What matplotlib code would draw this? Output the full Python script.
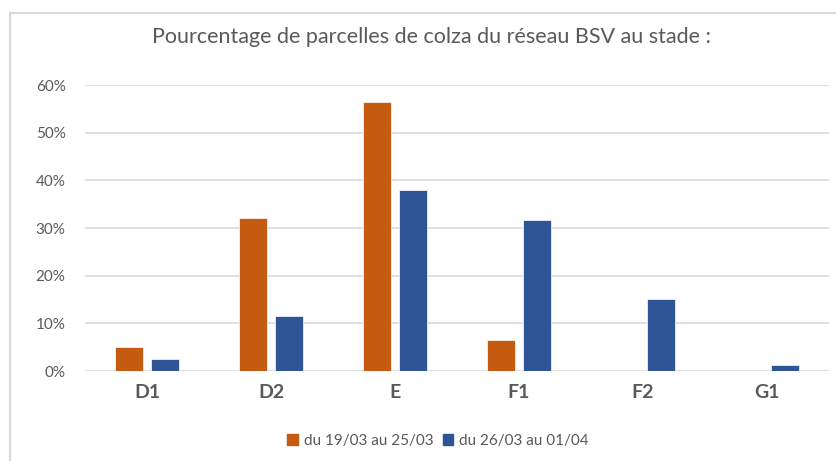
import numpy as np
import matplotlib
matplotlib.use("Agg")
import matplotlib.pyplot as plt
from matplotlib.lines import Line2D
from matplotlib.patches import Patch
from matplotlib.ticker import FuncFormatter

stades = ["D1", "D2", "E", "F1", "F2", "G1"]
semaine1 = [5.1, 32.0, 56.5, 6.5, 0.0, 0.0]
semaine2 = [2.6, 11.5, 37.9, 31.6, 15.2, 1.3]
labels = ["du 19/03 au 25/03", "du 26/03 au 01/04"]

orange = "#C55A11"
bleu = "#2F5597"
gris = "#595959"

plt.rcParams['font.family'] = ['Lato', 'DejaVu Sans']

fig = plt.figure(figsize=(8.37, 4.61), dpi=100)
ax = fig.add_axes([85/837, 1-371/461, (829-85)/837, (371-85)/461])

x = np.arange(len(stades))
w = 0.22
ax.bar(x - 0.145, semaine1, w, color=orange, edgecolor="white", linewidth=0.5, zorder=3)
ax.bar(x + 0.145, semaine2, w, color=bleu, edgecolor="white", linewidth=0.5, zorder=3)

ax.set_xlim(-0.5, 5.5)
ax.set_ylim(0, 60)
ax.set_yticks(range(0, 61, 10))
ax.yaxis.set_major_formatter(FuncFormatter(lambda v, p: "%d%%" % v))
ax.grid(axis="y", color="#d9d9d9", linewidth=1.2, zorder=0)
for s in ax.spines.values():
    s.set_visible(False)
ax.tick_params(axis="both", length=0)
ax.tick_params(axis="y", labelsize=11, labelcolor=gris, pad=14)
ax.set_xticks(x)
ax.set_xticklabels(stades, fontsize=14, fontweight="bold", color=gris)
ax.tick_params(axis="x", pad=9)

fig.text(432/837, 1-37/461, "Pourcentage de parcelles de colza du réseau BSV au stade :",
         ha="center", va="center", fontsize=15.5, color=gris)

handles = [Patch(color=orange), Patch(color=bleu)]
fig.legend(handles, labels, loc="center", bbox_to_anchor=(438/837, 1-441/461), ncol=2,
           frameon=False, fontsize=11, labelcolor=gris, handlelength=0.7, handleheight=0.7,
           handletextpad=0.4, columnspacing=0.6)

# bordure de la zone graphique
fig.add_artist(Line2D([10/837, 1], [1-13/461, 1-13/461], color="#d9d9d9", linewidth=1.5))
fig.add_artist(Line2D([10/837, 10/837], [0, 1-13/461], color="#d9d9d9", linewidth=1.5))

fig.savefig("out.png", dpi=100)
